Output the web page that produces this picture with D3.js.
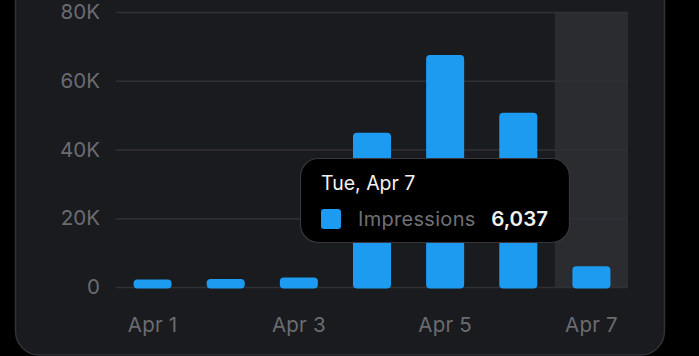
<!DOCTYPE html>
<html><head><meta charset="utf-8">
<script src="https://cdn.jsdelivr.net/npm/d3@7"></script>
<style>
html,body{margin:0;padding:0;background:#000;}
svg{display:block;}
text{font-family:Inter,"Noto Sans",sans-serif;}
</style></head>
<body>
<svg id="c" width="699" height="356"></svg>
<script>
const categories = ["Apr 1","Apr 2","Apr 3","Apr 4","Apr 5","Apr 6","Apr 7"];
const impressions = [2200, 2300, 2800, 44900, 67500, 50700, 6037];
const yTicks = [0, 20000, 40000, 60000, 80000];
const yTickLabels = ["0","20K","40K","60K","80K"];
const xTickLabels = ["Apr 1","Apr 3","Apr 5","Apr 7"];
const highlightIndex = 6;
const tooltipTitle = "Tue, Apr 7";
const seriesName = "Impressions";

const svg = d3.select("#c");
const plot = {left:116, right:628, top:12, bottom:287};

// card
svg.append("rect").attr("x",15.5).attr("y",-40).attr("width",649).attr("height",395)
  .attr("rx",24).attr("fill","#1a1b1f").attr("stroke","#303136").attr("stroke-width",1.5);

const x = d3.scaleBand().domain(categories).range([plot.left, plot.right]).paddingInner(0.48).paddingOuter(0.24);
const y = d3.scaleLinear().domain([0,80000]).range([plot.bottom, plot.top]);

// highlight column
const step = x.step();
svg.append("rect")
  .attr("x", x(categories[highlightIndex]) + x.bandwidth()/2 - step/2)
  .attr("y", y(80000)).attr("width", step).attr("height", y(0)-y(80000))
  .attr("fill","#2b2c30");

// gridlines + y labels
const yAxis = d3.axisLeft(y).tickValues(yTicks).tickFormat((d,i)=>yTickLabels[i]).tickSize(0).tickPadding(16);
const ga = svg.append("g").attr("transform",`translate(${plot.left},0)`).call(yAxis);
ga.select(".domain").remove();
ga.selectAll("text").attr("fill","#6b6c70").style("font-size","20.5px").style("font-family","Inter");
svg.append("g").selectAll("line").data(yTicks).join("line")
  .attr("x1",plot.left).attr("x2",plot.right).attr("y1",d=>y(d)+0.5).attr("y2",d=>y(d)+0.5)
  .attr("stroke","#303136").attr("stroke-width",1.5);

// bars
svg.append("g").selectAll("rect").data(impressions).join("rect")
  .attr("x",(d,i)=>x(categories[i]))
  .attr("y",d=>y(d))
  .attr("width",x.bandwidth())
  .attr("height",d=>Math.max(y(0)-y(d)+1.5, 8))
  .attr("rx",4)
  .attr("fill","#1d9bf0");

// x labels
const xAxis = d3.axisBottom(x).tickValues(xTickLabels).tickSize(0).tickPadding(30);
const gx = svg.append("g").attr("transform",`translate(0,${plot.bottom})`).call(xAxis);
gx.select(".domain").remove();
gx.selectAll("text").attr("fill","#6b6c70").style("font-size","20.5px").style("font-family","Inter").style("letter-spacing","0.2px");

// tooltip
const tt = svg.append("g");
tt.append("rect").attr("x",300.5).attr("y",158.5).attr("width",269).attr("height",84).attr("rx",18)
  .attr("fill","#000").attr("stroke","#36373b").attr("stroke-width",1.2);
tt.append("text").attr("x",321).attr("y",190).attr("fill","#f2f2f2").style("font-size","19.5px").text(tooltipTitle);
tt.append("rect").attr("x",321).attr("y",209).attr("width",20).attr("height",20).attr("rx",3).attr("fill","#1d9bf0");
tt.append("text").attr("x",358).attr("y",226).attr("fill","#707176").style("font-size","20px").style("letter-spacing","0.3px").text(seriesName);
tt.append("text").attr("x",548).attr("y",226).attr("text-anchor","end").attr("fill","#f2f2f2")
  .style("font-size","20.5px").style("font-weight","600").text(d3.format(",")(impressions[highlightIndex]));
</script>
</body></html>
